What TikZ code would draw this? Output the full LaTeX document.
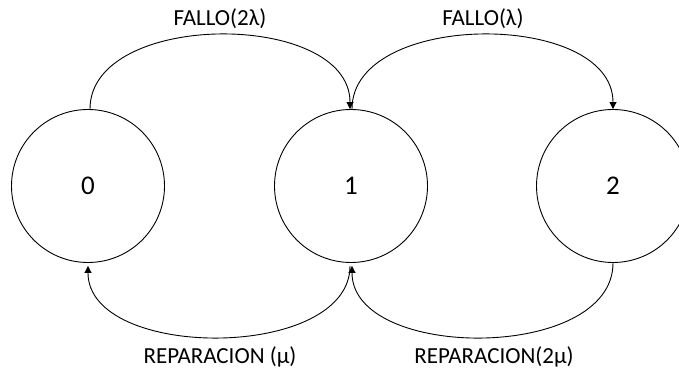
\documentclass[tikz,border=0pt]{standalone}
\usepackage{fontspec}
\setmainfont{Carlito}
\usetikzlibrary{arrows.meta}
\begin{document}
\begin{tikzpicture}[x=1pt,y=1pt,
  state/.style={circle,draw,line width=0.9pt,minimum size=153pt,inner sep=0pt,font=\fontsize{27}{30}\selectfont},
  lbl/.style={font=\fontsize{23}{26}\selectfont,inner sep=0pt},
  edge/.style={line width=0.9pt,-{Triangle[width=7pt,length=7pt]}}]
\useasboundingbox (0,0) rectangle (679,374);
\node[state] (n0) at (88,188) {0};
\node[state] (n1) at (351,188) {1};
\node[state] (n2) at (613,188) {2};
\coordinate (t0) at ([xshift=2pt]n0.north);
\coordinate (t1a) at ([xshift=-1pt]n1.north);
\coordinate (t1b) at ([xshift=1pt]n1.north);
\coordinate (b0) at ([yshift=-3pt]n0.south);
\coordinate (b1a) at ([xshift=-1pt,yshift=-3pt]n1.south);
\coordinate (b1b) at ([xshift=1pt,yshift=-3pt]n1.south);
\coordinate (b2) at (n2.south);
\draw[edge] (t0) .. controls +(0,99) and +(0,99) .. (t1a);
\draw[edge] (t1b) .. controls +(0,99) and +(0,99) .. (n2.north);
\draw[edge] (b1a) .. controls +(0,-95) and +(0,-95) .. (b0);
\draw[edge] (b2) .. controls +(0,-99) and +(0,-95) .. (b1b);
\node[lbl] (l1) at (220,355) {FALLO(2λ)};
\node[lbl] (l2) at (483,355) {FALLO(λ)};
\node[lbl] (l3) at (220,17) {REPARACION (µ)};
\node[lbl] (l4) at (494,17) {REPARACION(2µ)};
\end{tikzpicture}
\end{document}
